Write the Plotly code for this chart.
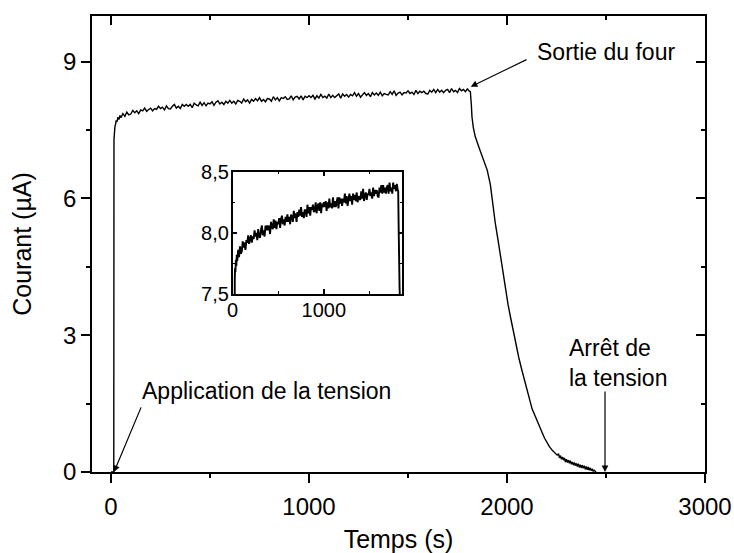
import plotly.graph_objects as go

# --- Mesure du courant (µA) en fonction du temps (s) ---
# Montée à l'application de la tension
temps_debut = [0, 10, 14, 15, 17, 20, 23, 26, 30, 35, 40, 45, 50, 60, 70, 80, 90]
courant_debut = [0.00, 0.00, 0.00, 7.30, 7.46, 7.58, 7.62, 7.71, 7.68, 7.78,
                 7.73, 7.82, 7.77, 7.86, 7.80, 7.89, 7.83]

# Palier dans le four, échantillonné toutes les 10 s (100 s à 1810 s)
temps_palier = list(range(100, 1820, 10))
courant_palier = [
    7.85, 7.93, 7.88, 7.92, 7.86, 7.94, 7.92, 7.98, 7.91, 7.95,
    7.98, 7.92, 7.97, 7.95, 8.02, 7.97, 8.00, 7.94, 8.03, 7.97,
    7.96, 8.02, 8.06, 7.98, 8.02, 7.97, 8.06, 8.02, 8.06, 8.02,
    8.06, 7.99, 8.09, 8.05, 8.03, 8.11, 8.04, 8.10, 8.03, 8.09,
    8.07, 8.12, 8.04, 8.11, 8.14, 8.07, 8.11, 8.06, 8.13, 8.09,
    8.15, 8.09, 8.13, 8.07, 8.15, 8.13, 8.09, 8.18, 8.12, 8.16,
    8.09, 8.17, 8.13, 8.19, 8.14, 8.21, 8.13, 8.17, 8.12, 8.19,
    8.18, 8.13, 8.23, 8.16, 8.21, 8.14, 8.21, 8.19, 8.23, 8.17,
    8.18, 8.25, 8.16, 8.22, 8.24, 8.18, 8.25, 8.16, 8.24, 8.21,
    8.25, 8.21, 8.26, 8.18, 8.25, 8.20, 8.28, 8.21, 8.24, 8.20,
    8.29, 8.21, 8.26, 8.21, 8.25, 8.29, 8.20, 8.29, 8.24, 8.28,
    8.22, 8.28, 8.25, 8.32, 8.24, 8.30, 8.22, 8.28, 8.32, 8.26,
    8.30, 8.23, 8.32, 8.27, 8.31, 8.26, 8.33, 8.25, 8.30, 8.28,
    8.27, 8.34, 8.28, 8.36, 8.26, 8.31, 8.33, 8.27, 8.32, 8.31,
    8.36, 8.30, 8.33, 8.28, 8.37, 8.30, 8.35, 8.32, 8.35, 8.30,
    8.29, 8.37, 8.33, 8.39, 8.32, 8.39, 8.33, 8.37, 8.32, 8.37,
    8.39, 8.32, 8.41, 8.34, 8.37, 8.32, 8.41, 8.36, 8.39, 8.34,
    8.40, 8.35,
]

# Chute après la sortie du four
temps_chute = [1815, 1820, 1823, 1830, 1840, 1860, 1882, 1900, 1916, 1930,
               1941, 1955, 1967, 1980, 1992, 2005, 2017, 2030, 2043, 2060,
               2076, 2090, 2102, 2115, 2127, 2140, 2152, 2165, 2180, 2190,
               2203, 2215, 2230, 2240, 2253]
courant_chute = [8.34, 8.05, 7.79, 7.55, 7.35, 7.10, 6.84, 6.62, 6.30, 5.80,
                 5.45, 5.08, 4.72, 4.35, 3.99, 3.68, 3.41, 3.11, 2.82, 2.50,
                 2.22, 1.98, 1.80, 1.58, 1.38, 1.25, 1.12, 0.96, 0.84, 0.74,
                 0.63, 0.55, 0.47, 0.43, 0.37]

# Fin de décroissance (bruitée), toutes les 5 s de 2260 s à 2450 s
temps_fin = list(range(2260, 2455, 5))
courant_fin = [0.40, 0.31, 0.36, 0.28, 0.33, 0.26, 0.31, 0.22, 0.28, 0.21,
               0.26, 0.19, 0.25, 0.17, 0.22, 0.15, 0.21, 0.14, 0.19, 0.12,
               0.18, 0.10, 0.16, 0.09, 0.15, 0.08, 0.14, 0.06, 0.12, 0.05,
               0.11, 0.04, 0.09, 0.03, 0.07, 0.02, 0.04, 0.01, 0.00]

temps = temps_debut + temps_palier + temps_chute + temps_fin
courant = courant_debut + courant_palier + courant_chute + courant_fin

# Axes
x_ticks = [0, 1000, 2000, 3000]
y_ticks = [0, 3, 6, 9]
encart_x_ticks = [0, 1000]
encart_y_ticks = [7.5, 8.0, 8.5]
encart_y_labels = ["7,5", "8,0", "8,5"]

FONT = "Liberation Sans, Arial, sans-serif"
X_RANGE = [-96, 3000]
Y_RANGE = [0, 10]

fig = go.Figure()
fig.add_trace(go.Scatter(x=temps, y=courant, mode="lines",
                         line=dict(color="black", width=1.4),
                         showlegend=False, hoverinfo="skip"))
# traces vides pour les axes miroirs (haut et droite)
fig.add_trace(go.Scatter(x=[None], y=[None], xaxis="x2", yaxis="y",
                         showlegend=False, hoverinfo="skip"))
fig.add_trace(go.Scatter(x=[None], y=[None], xaxis="x", yaxis="y2",
                         showlegend=False, hoverinfo="skip"))
# encart
fig.add_trace(go.Scatter(x=temps, y=courant, mode="lines", xaxis="x3", yaxis="y3",
                         line=dict(color="black", width=1.9),
                         showlegend=False, hoverinfo="skip"))

axis_common = dict(showgrid=False, zeroline=False, showline=True,
                   linecolor="black", linewidth=1.5, tickcolor="black",
                   tickwidth=1.5, automargin=False)

fig.update_layout(
    width=734, height=553,
    margin=dict(l=92, r=29, t=16, b=81),
    paper_bgcolor="white", plot_bgcolor="white",
    font=dict(family=FONT, color="black"),
    xaxis=dict(**axis_common, range=X_RANGE, tickvals=x_ticks,
               ticks="outside", ticklen=9, ticklabelstandoff=3,
               minor=dict(dtick=500, tick0=0, ticks="outside", ticklen=4.5,
                          tickwidth=1.5, tickcolor="black"),
               tickfont=dict(size=24),
               title=dict(text="Temps (s)", font=dict(size=25), standoff=16)),
    yaxis=dict(**axis_common, range=Y_RANGE, tickvals=y_ticks,
               ticks="outside", ticklen=9,
               minor=dict(dtick=1.5, tick0=0, ticks="outside", ticklen=4.5,
                          tickwidth=1.5, tickcolor="black"),
               tickfont=dict(size=24),
               title=dict(text="Courant (µA)", font=dict(size=25), standoff=24)),
    xaxis2=dict(**axis_common, range=X_RANGE, overlaying="x", side="top",
                anchor="y", tickvals=x_ticks, ticks="inside", ticklen=9,
                showticklabels=False,
                minor=dict(dtick=500, tick0=0, ticks="inside", ticklen=4.5,
                           tickwidth=1.5, tickcolor="black")),
    yaxis2=dict(**axis_common, range=Y_RANGE, overlaying="y", side="right",
                anchor="x", tickvals=y_ticks, ticks="inside", ticklen=9,
                showticklabels=False,
                minor=dict(dtick=1.5, tick0=0, ticks="inside", ticklen=4.5,
                           tickwidth=1.5, tickcolor="black")),
    xaxis3=dict(**axis_common, domain=[0.2295, 0.5062], anchor="y3",
                range=[0, 1860], tickvals=encart_x_ticks, ticks="inside",
                ticklen=5, mirror="ticks",
                minor=dict(dtick=500, tick0=0, ticks="inside", ticklen=3,
                           tickwidth=1, tickcolor="black"),
                tickfont=dict(size=20), ticklabelstandoff=-3),
    yaxis3=dict(**axis_common, domain=[0.3904, 0.6586], anchor="x3",
                range=[7.5, 8.5], tickvals=encart_y_ticks,
                ticktext=encart_y_labels, ticks="inside", ticklen=5,
                mirror="ticks",
                minor=dict(dtick=0.25, tick0=7.5, ticks="inside", ticklen=3,
                           tickwidth=1, tickcolor="black"),
                tickfont=dict(size=20), ticklabelstandoff=-2),
)

ANN_FONT = dict(family=FONT, size=23, color="black")
arrow = dict(showarrow=True, arrowhead=2, arrowsize=1.1, arrowwidth=1.2,
             arrowcolor="black", xref="x", yref="y", axref="x", ayref="y", text="")

fig.add_annotation(x=783, y=1.78, text="Application de la tension",
                   showarrow=False, font=ANN_FONT)
fig.add_annotation(x=15, y=0.0, ax=155, ay=1.45, **arrow)

fig.add_annotation(x=2502, y=9.21, text="Sortie du four",
                   showarrow=False, font=ANN_FONT)
fig.add_annotation(x=1817, y=8.45, ax=2106, ay=9.06, **arrow)

fig.add_annotation(x=2303, y=2.38, text="Arrêt de<br>la tension", align="left",
                   xanchor="left", showarrow=False, font=ANN_FONT)
fig.add_annotation(x=2495, y=0.0, ax=2495, ay=1.80, **arrow)

fig.write_html("out.html")
